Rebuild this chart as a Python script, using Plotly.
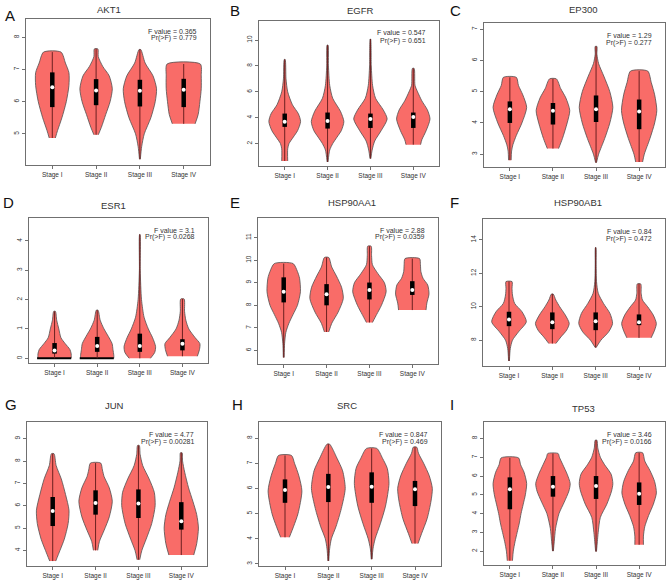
import plotly.graph_objects as go

STAGES = ["Stage I", "Stage II", "Stage III", "Stage IV"]
STAGE_POS = [1, 2, 3, 4]
GENES = ["AKT1", "EGFR", "EP300", "ESR1", "HSP90AA1", "HSP90AB1", "JUN", "SRC", "TP53"]
LETTERS = ["A", "B", "C", "D", "E", "F", "G", "H", "I"]
F_VALUES = ["0.365", "0.547", "1.29", "3.1", "2.88", "0.84", "4.77", "0.847", "3.46"]
P_VALUES = ["0.779", "0.651", "0.277", "0.0268", "0.0359", "0.472", "0.00281", "0.469", "0.0166"]
Y_TICKS = [
    [5, 6, 7, 8], [2, 4, 6, 8, 10], [3, 4, 5, 6, 7], [0, 1, 2, 3, 4],
    [6, 7, 8, 9, 10, 11], [8, 10, 12, 14], [4, 5, 6, 7, 8, 9],
    [3, 4, 5, 6, 7, 8], [2, 3, 4, 5, 6, 7, 8],
]
Y_RANGES = [
    [4.03, 8.57], [0.27, 11.47], [2.59, 7.2], [-0.16, 4.78],
    [5.4, 11.87], [6.46, 15.24], [3.3, 9.75], [2.92, 8.64], [1.26, 8.88],
]

# quartiles and medians per gene (rows) and stage (columns)
Q1 = [
    [5.83, 5.89, 5.85, 5.83], [3.29, 3.16, 3.21, 3.21], [4.0, 3.95, 4.03, 3.8],
    [0.16, 0.22, 0.22, 0.27], [8.13, 8.0, 8.26, 8.46], [8.84, 8.66, 8.6, 8.9],
    [5.09, 5.6, 5.45, 4.93], [5.43, 5.46, 5.43, 5.3], [4.23, 4.9, 4.78, 4.46],
]
MEDIAN = [
    [6.45, 6.35, 6.34, 6.37], [3.68, 3.75, 3.9, 4.06], [4.44, 4.39, 4.44, 4.37],
    [0.27, 0.42, 0.42, 0.5], [8.6, 8.49, 8.68, 8.68], [9.24, 9.08, 9.14, 9.08],
    [5.76, 6.12, 6.1, 5.31], [5.94, 6.06, 6.07, 5.97], [5.29, 5.43, 5.47, 5.06],
]
Q3 = [
    [6.91, 6.70, 6.68, 6.71], [4.32, 4.4, 4.32, 4.4], [4.69, 4.64, 4.88, 4.75],
    [0.52, 0.73, 0.84, 0.65], [9.24, 8.94, 9.01, 9.07], [9.7, 9.66, 9.66, 9.54],
    [6.39, 6.69, 6.73, 6.16], [6.36, 6.58, 6.64, 6.3], [5.93, 6.0, 6.0, 5.66],
]

# violin outlines: (value, half-width), per stage
AKT1_PROFILE = [
    [(4.87, 0.07), (5.1, 0.12), (5.5, 0.22), (6.0, 0.32), (6.5, 0.38), (6.9, 0.38), (7.2, 0.3), (7.54, 0.2)],
    [(4.97, 0.05), (5.2, 0.12), (5.6, 0.22), (6.0, 0.32), (6.4, 0.37), (6.8, 0.3), (7.1, 0.15), (7.4, 0.05), (7.64, 0.04)],
    [(4.21, 0.01), (4.6, 0.04), (5.0, 0.1), (5.5, 0.25), (6.0, 0.35), (6.4, 0.38), (6.8, 0.3), (7.2, 0.12), (7.62, 0.02)],
    [(5.31, 0.26), (5.6, 0.33), (6.0, 0.37), (6.4, 0.4), (6.8, 0.4), (7.17, 0.38)],
]
EGFR_PROFILE = [
    [(0.66, 0.07), (1.6, 0.07), (2.0, 0.1), (2.5, 0.2), (3.0, 0.3), (3.7, 0.37), (4.3, 0.32), (5.0, 0.18), (6.0, 0.07), (7.0, 0.03), (8.5, 0.01)],
    [(0.58, 0.01), (1.5, 0.05), (2.0, 0.12), (2.5, 0.22), (3.0, 0.32), (3.7, 0.38), (4.5, 0.3), (5.5, 0.12), (6.5, 0.05), (8.0, 0.02), (9.61, 0.01)],
    [(0.84, 0.01), (1.5, 0.04), (2.2, 0.1), (3.0, 0.25), (3.9, 0.39), (4.6, 0.3), (5.5, 0.12), (6.5, 0.05), (8.0, 0.02), (10.08, 0.005)],
    [(1.92, 0.17), (2.3, 0.2), (3.0, 0.3), (3.9, 0.39), (4.6, 0.33), (5.3, 0.2), (6.0, 0.1), (6.5, 0.04), (7.81, 0.02)],
]
EP300_PROFILE = [
    [(2.81, 0.03), (3.1, 0.04), (3.3, 0.07), (3.6, 0.15), (4.0, 0.28), (4.5, 0.39), (4.9, 0.3), (5.2, 0.2), (5.46, 0.15)],
    [(3.18, 0.13), (3.5, 0.22), (4.0, 0.33), (4.4, 0.39), (4.8, 0.3), (5.1, 0.18), (5.41, 0.08)],
    [(2.73, 0.01), (3.0, 0.06), (3.5, 0.2), (4.0, 0.32), (4.5, 0.39), (5.0, 0.32), (5.5, 0.18), (5.9, 0.06), (6.2, 0.02), (6.45, 0.02)],
    [(2.75, 0.08), (3.0, 0.12), (3.5, 0.25), (4.0, 0.36), (4.4, 0.41), (4.9, 0.36), (5.3, 0.28), (5.66, 0.2)],
]
ESR1_PROFILE = [
    [(0.0, 0.39), (0.15, 0.39), (0.3, 0.36), (0.5, 0.25), (0.7, 0.15), (1.0, 0.1), (1.3, 0.05), (1.6, 0.02)],
    [(0.0, 0.39), (0.1, 0.39), (0.3, 0.37), (0.5, 0.35), (0.8, 0.24), (1.0, 0.16), (1.3, 0.07), (1.64, 0.02)],
    [(0.0, 0.25), (0.2, 0.35), (0.4, 0.37), (0.7, 0.3), (1.0, 0.2), (1.4, 0.1), (2.0, 0.04), (3.0, 0.01), (4.22, 0.005)],
    [(0.07, 0.35), (0.3, 0.4), (0.5, 0.41), (0.7, 0.3), (1.0, 0.15), (1.3, 0.08), (1.6, 0.05), (2.02, 0.04)],
]
ESR1_DARK_BASE = [True, True, False, False]
HSP90AA1_PROFILE = [
    [(5.69, 0.01), (6.3, 0.02), (6.8, 0.05), (7.2, 0.12), (7.6, 0.22), (8.0, 0.32), (8.6, 0.39), (9.2, 0.37), (9.5, 0.32), (9.85, 0.22)],
    [(6.82, 0.05), (7.2, 0.12), (7.7, 0.27), (8.3, 0.39), (8.8, 0.35), (9.3, 0.23), (9.7, 0.12), (10.12, 0.05)],
    [(7.24, 0.07), (7.6, 0.17), (8.0, 0.28), (8.6, 0.39), (9.0, 0.35), (9.4, 0.2), (9.8, 0.07), (10.2, 0.05), (10.62, 0.04)],
    [(7.79, 0.32), (8.1, 0.34), (8.5, 0.39), (8.9, 0.36), (9.2, 0.25), (9.5, 0.2), (9.8, 0.19), (10.07, 0.17)],
]
HSP90AB1_PROFILE = [
    [(6.76, 0.01), (7.5, 0.03), (8.0, 0.08), (8.5, 0.22), (9.1, 0.4), (9.7, 0.3), (10.2, 0.13), (10.7, 0.08), (11.1, 0.07), (11.5, 0.07)],
    [(7.8, 0.08), (8.2, 0.2), (8.6, 0.33), (9.0, 0.39), (9.5, 0.3), (10.0, 0.17), (10.4, 0.08), (10.76, 0.02)],
    [(7.56, 0.01), (8.0, 0.12), (8.5, 0.3), (9.0, 0.39), (9.6, 0.33), (10.2, 0.18), (10.8, 0.06), (11.5, 0.02), (12.5, 0.01), (13.54, 0.005)],
    [(8.14, 0.28), (8.6, 0.36), (9.0, 0.4), (9.5, 0.33), (10.0, 0.2), (10.4, 0.08), (10.8, 0.05), (11.36, 0.04)],
]
JUN_PROFILE = [
    [(3.52, 0.07), (4.0, 0.17), (4.5, 0.27), (5.2, 0.36), (5.8, 0.38), (6.5, 0.3), (7.2, 0.2), (7.8, 0.08), (8.33, 0.03)],
    [(4.0, 0.05), (4.4, 0.09), (4.9, 0.2), (5.5, 0.32), (6.2, 0.39), (6.8, 0.32), (7.3, 0.2), (7.6, 0.16), (7.91, 0.12)],
    [(3.58, 0.03), (4.0, 0.08), (4.5, 0.18), (5.2, 0.31), (6.0, 0.39), (6.6, 0.37), (7.2, 0.25), (7.8, 0.1), (8.3, 0.04), (8.7, 0.02)],
    [(3.79, 0.29), (4.3, 0.36), (5.0, 0.4), (5.6, 0.36), (6.2, 0.27), (6.8, 0.17), (7.5, 0.08), (8.0, 0.03), (8.37, 0.02)],
]
SRC_PROFILE = [
    [(4.06, 0.1), (4.5, 0.2), (5.0, 0.3), (5.9, 0.39), (6.5, 0.32), (7.0, 0.22), (7.31, 0.15)],
    [(3.12, 0.01), (3.6, 0.03), (4.0, 0.07), (4.5, 0.18), (5.2, 0.3), (6.0, 0.39), (6.7, 0.33), (7.2, 0.2), (7.76, 0.03)],
    [(3.19, 0.01), (3.6, 0.03), (4.0, 0.08), (4.6, 0.2), (5.3, 0.32), (6.2, 0.4), (6.8, 0.36), (7.2, 0.25), (7.59, 0.12)],
    [(3.81, 0.07), (4.2, 0.15), (4.8, 0.28), (5.5, 0.37), (6.0, 0.4), (6.5, 0.33), (7.0, 0.2), (7.4, 0.08), (7.64, 0.04)],
]
TP53_PROFILE = [
    [(1.49, 0.06), (2.0, 0.08), (2.5, 0.12), (3.0, 0.17), (3.5, 0.22), (4.0, 0.26), (4.5, 0.31), (5.0, 0.36), (5.6, 0.39), (6.2, 0.33), (6.6, 0.25), (6.97, 0.2)],
    [(2.0, 0.01), (2.5, 0.03), (3.2, 0.06), (4.0, 0.14), (4.6, 0.26), (5.2, 0.37), (5.6, 0.4), (6.1, 0.33), (6.6, 0.23), (7.0, 0.15), (7.2, 0.12)],
    [(1.98, 0.01), (2.5, 0.03), (3.0, 0.05), (3.8, 0.1), (4.5, 0.25), (5.2, 0.36), (5.6, 0.39), (6.1, 0.35), (6.6, 0.2), (7.0, 0.1), (7.5, 0.04), (7.91, 0.02)],
    [(2.34, 0.1), (2.8, 0.1), (3.3, 0.13), (3.9, 0.22), (4.5, 0.33), (5.1, 0.4), (5.7, 0.36), (6.3, 0.25), (6.8, 0.13), (7.24, 0.08)],
]
PROFILES = [AKT1_PROFILE, EGFR_PROFILE, EP300_PROFILE, ESR1_PROFILE, HSP90AA1_PROFILE,
            HSP90AB1_PROFILE, JUN_PROFILE, SRC_PROFILE, TP53_PROFILE]

# ---- layout geometry (pixels) ----
W, H = 669, 583
BOXES = [(26, 210, 19, 165), (259, 439, 21, 166), (484, 665, 23, 167),
         (29, 208, 218, 363), (258, 438, 218, 364), (483, 665, 219, 366),
         (27, 207, 422, 566), (259, 441, 422, 566), (484, 665, 422, 565)]
TITLE_POS = [(109, 10), (360, 11), (583, 10), (113, 205), (352, 202), (578, 202),
             (114, 405), (347, 405), (583, 408)]
LETTER_POS = [(8, 15), (233, 11), (453, 11), (6, 203), (233, 203), (453, 203),
              (8, 404), (235, 404), (453, 404)]

FONT = "Liberation Sans, Arial, sans-serif"
FILL = "#F96C68"
OUTLINE = "#505050"
FRAME = "#707070"
TEXT = "#333333"

fig = go.Figure()


def px_x(p):
    return p / W


def px_y(p):
    return 1 - p / H


for i, gene in enumerate(GENES):
    xa = "x" if i == 0 else f"x{i+1}"
    ya = "y" if i == 0 else f"y{i+1}"
    for s, prof in enumerate(PROFILES[i]):
        c = STAGE_POS[s]
        ys = [p[0] for p in prof]
        hws = [p[1] for p in prof]
        xs = [c + h for h in hws] + [c - h for h in reversed(hws)]
        yy = ys + list(reversed(ys))
        fig.add_trace(go.Scatter(
            x=xs, y=yy, mode="lines", fill="toself", fillcolor=FILL,
            line=dict(color=OUTLINE, width=0.8, shape="spline", smoothing=0.7),
            xaxis=xa, yaxis=ya, showlegend=False, hoverinfo="skip"))
        if gene == "ESR1" and ESR1_DARK_BASE[s]:
            fig.add_trace(go.Scatter(
                x=[c - hws[0] - 0.02, c + hws[0]], y=[ys[0], ys[0]], mode="lines",
                line=dict(color="black", width=2), xaxis=xa, yaxis=ya,
                showlegend=False, hoverinfo="skip"))
        # whisker line
        fig.add_trace(go.Scatter(
            x=[c, c], y=[min(ys), max(ys)], mode="lines",
            line=dict(color="#6b2020", width=1), xaxis=xa, yaxis=ya,
            showlegend=False, hoverinfo="skip"))
        # box
        fig.add_trace(go.Scatter(
            x=[c, c], y=[Q1[i][s], Q3[i][s]], mode="lines",
            line=dict(color="black", width=4.5), xaxis=xa, yaxis=ya,
            showlegend=False, hoverinfo="skip"))
        # median
        fig.add_trace(go.Scatter(
            x=[c], y=[MEDIAN[i][s]], mode="markers",
            marker=dict(color="white", size=4, line=dict(width=0)),
            xaxis=xa, yaxis=ya, showlegend=False, hoverinfo="skip"))

layout = dict(
    width=W, height=H, margin=dict(l=0, r=0, t=0, b=0),
    paper_bgcolor="white", plot_bgcolor="white", showlegend=False,
    font=dict(family=FONT, color=TEXT),
)
annotations = []
for i, gene in enumerate(GENES):
    l, r, t, b = BOXES[i]
    xk = "xaxis" if i == 0 else f"xaxis{i+1}"
    yk = "yaxis" if i == 0 else f"yaxis{i+1}"
    ya = "y" if i == 0 else f"y{i+1}"
    xa = "x" if i == 0 else f"x{i+1}"
    layout[xk] = dict(
        domain=[px_x(l), px_x(r)], range=[0.4, 4.6], anchor=ya,
        tickvals=STAGE_POS, ticktext=STAGES, ticks="outside", ticklen=3,
        tickcolor=FRAME, tickwidth=1, showline=True, mirror=True,
        linecolor=FRAME, linewidth=1, showgrid=False, zeroline=False,
        tickfont=dict(size=6.5, color=TEXT, family=FONT), fixedrange=True,
    )
    layout[yk] = dict(
        domain=[px_y(b), px_y(t)], range=Y_RANGES[i], anchor=xa,
        tickvals=Y_TICKS[i], ticks="outside", ticklen=3, tickcolor=FRAME,
        tickwidth=1, tickangle=-90, showline=True, mirror=True,
        linecolor=FRAME, linewidth=1, showgrid=False, zeroline=False,
        tickfont=dict(size=6.5, color=TEXT, family=FONT), fixedrange=True,
    )
    tx, ty = TITLE_POS[i]
    annotations.append(dict(text=gene, x=px_x(tx), y=px_y(ty), xref="paper", yref="paper",
                            showarrow=False, xanchor="center", yanchor="middle",
                            font=dict(size=9.5, color=TEXT, family=FONT)))
    lx, ly = LETTER_POS[i]
    annotations.append(dict(text=LETTERS[i], x=px_x(lx - 5), y=px_y(ly), xref="paper", yref="paper",
                            showarrow=False, xanchor="left", yanchor="middle",
                            font=dict(size=15, color="#111", family=FONT)))
    annotations.append(dict(text=f"F value = {F_VALUES[i]}", x=px_x(r - 11), y=px_y(t + 12),
                            xref="paper", yref="paper", showarrow=False,
                            xanchor="right", yanchor="middle",
                            font=dict(size=7, color=TEXT, family=FONT)))
    annotations.append(dict(text=f"Pr(>F) = {P_VALUES[i]}", x=px_x(r - 11), y=px_y(t + 19.5),
                            xref="paper", yref="paper", showarrow=False,
                            xanchor="right", yanchor="middle",
                            font=dict(size=7, color=TEXT, family=FONT)))
layout["annotations"] = annotations
fig.update_layout(**layout)
fig.write_html("out.html")
